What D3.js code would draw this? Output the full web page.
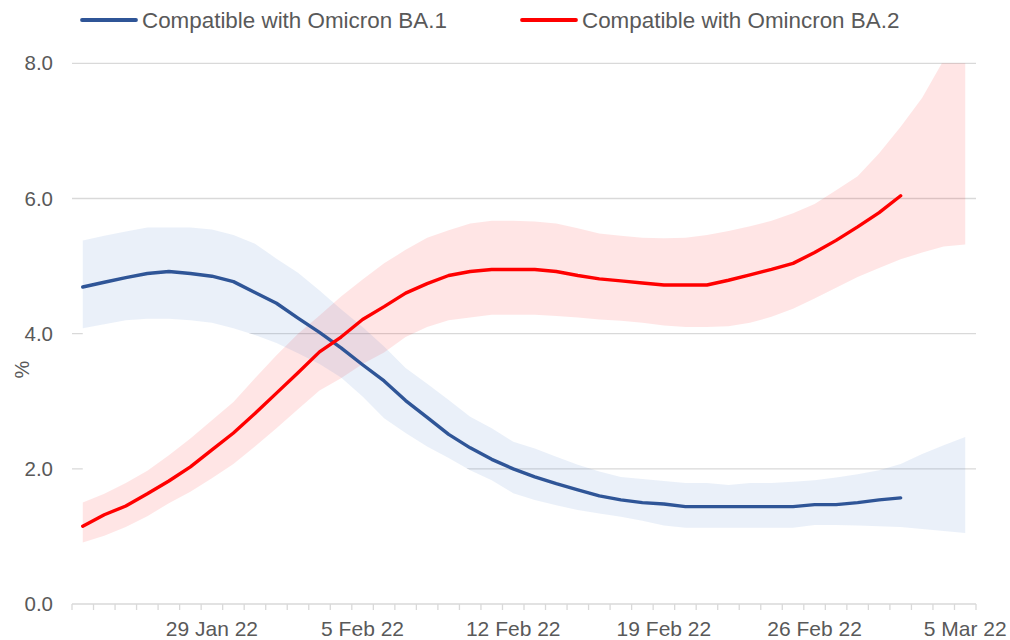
<!DOCTYPE html>
<html>
<head>
<meta charset="utf-8">
<script src="https://cdn.jsdelivr.net/npm/d3@7"></script>
<style>
  html, body { margin: 0; padding: 0; background: #fff; }
  svg { display: block; font-family: "Liberation Sans", Arial, sans-serif; }
</style>
</head>
<body>
<svg id="chart" width="1010" height="640"></svg>
<script>
// ---------------- DATA ----------------
const categories = [
  "23 Jan 22","24 Jan 22","25 Jan 22","26 Jan 22","27 Jan 22","28 Jan 22","29 Jan 22",
  "30 Jan 22","31 Jan 22","1 Feb 22","2 Feb 22","3 Feb 22","4 Feb 22","5 Feb 22",
  "6 Feb 22","7 Feb 22","8 Feb 22","9 Feb 22","10 Feb 22","11 Feb 22","12 Feb 22",
  "13 Feb 22","14 Feb 22","15 Feb 22","16 Feb 22","17 Feb 22","18 Feb 22","19 Feb 22",
  "20 Feb 22","21 Feb 22","22 Feb 22","23 Feb 22","24 Feb 22","25 Feb 22","26 Feb 22",
  "27 Feb 22","28 Feb 22","1 Mar 22","2 Mar 22","3 Mar 22","4 Mar 22","5 Mar 22"
];
const tickLabels = ["29 Jan 22","5 Feb 22","12 Feb 22","19 Feb 22","26 Feb 22","5 Mar 22"];
const yTicks = [0, 2, 4, 6, 8];
const seriesNames = ["Compatible with Omicron BA.1", "Compatible with Omincron BA.2"];

// BA.1 estimate (ends 2 Mar) and 95% interval (to 5 Mar)
const ba1 = [4.69,4.76,4.83,4.89,4.92,4.89,4.85,4.77,4.61,4.45,4.23,4.02,3.79,3.54,
  3.30,3.01,2.76,2.51,2.31,2.14,2.00,1.88,1.78,1.69,1.60,1.54,1.50,1.48,1.44,1.44,
  1.44,1.44,1.44,1.44,1.47,1.47,1.50,1.54,1.57];
const ba1Upper = [5.38,5.45,5.51,5.57,5.57,5.57,5.54,5.46,5.33,5.11,4.90,4.64,4.36,4.10,
  3.81,3.49,3.26,3.02,2.77,2.60,2.40,2.30,2.18,2.06,1.96,1.88,1.85,1.82,1.79,1.79,
  1.76,1.79,1.79,1.81,1.83,1.87,1.92,1.98,2.07,2.22,2.35,2.47];
const ba1Lower = [4.08,4.14,4.20,4.22,4.22,4.20,4.16,4.08,3.98,3.86,3.71,3.55,3.35,3.07,
  2.75,2.53,2.33,2.16,1.98,1.83,1.64,1.54,1.46,1.39,1.34,1.29,1.23,1.16,1.13,1.13,
  1.13,1.13,1.13,1.13,1.17,1.17,1.16,1.15,1.14,1.11,1.08,1.05];

// BA.2 estimate and interval
const ba2 = [1.15,1.32,1.45,1.63,1.82,2.03,2.28,2.53,2.82,3.12,3.42,3.73,3.95,4.21,
  4.40,4.60,4.74,4.86,4.92,4.95,4.95,4.95,4.92,4.86,4.81,4.78,4.75,4.72,4.72,4.72,
  4.79,4.87,4.95,5.04,5.20,5.38,5.58,5.79,6.04];
const ba2Upper = [1.50,1.63,1.79,1.97,2.20,2.45,2.72,2.99,3.34,3.68,4.00,4.27,4.55,4.80,
  5.04,5.24,5.42,5.53,5.63,5.67,5.67,5.66,5.63,5.56,5.48,5.45,5.42,5.41,5.42,5.46,
  5.52,5.59,5.67,5.78,5.92,6.12,6.33,6.67,7.06,7.49,8.05,8.60];
const ba2Lower = [0.91,1.01,1.14,1.30,1.49,1.66,1.86,2.07,2.33,2.60,2.88,3.16,3.34,3.55,
  3.72,3.95,4.10,4.20,4.24,4.28,4.28,4.28,4.26,4.24,4.21,4.19,4.16,4.12,4.10,4.10,
  4.11,4.16,4.25,4.37,4.52,4.68,4.84,4.97,5.10,5.20,5.29,5.32];

// ---------------- LAYOUT ----------------
const svg = d3.select("#chart");
const plot = { left: 72, right: 976, top: 63.3, bottom: 604 };
const textColor = "#595959";
const gridColor = "#d9d9d9";
const blue = "#2f5597";
const bandBlue = "#4472c4";
const red = "#ff0000";

const x = d3.scaleBand().domain(categories).range([plot.left, plot.right]).padding(0);
const cx = c => x(c) + x.bandwidth() / 2;
const y = d3.scaleLinear().domain([0, 8]).range([plot.bottom, plot.top]);

svg.append("defs").append("clipPath").attr("id", "plotClip")
  .append("rect").attr("x", plot.left).attr("y", plot.top)
  .attr("width", plot.right - plot.left + 2).attr("height", plot.bottom - plot.top);

// gridlines
svg.append("g").selectAll("line").data(yTicks.filter(d => d > 0)).join("line")
  .attr("x1", plot.left).attr("x2", plot.right)
  .attr("y1", d => y(d)).attr("y2", d => y(d))
  .attr("stroke", gridColor).attr("stroke-width", 1.3);

// y tick labels
svg.append("g").selectAll("text").data(yTicks).join("text")
  .attr("x", 53).attr("y", d => y(d)).attr("dy", "0.35em")
  .attr("text-anchor", "end").attr("fill", textColor).attr("font-size", 20.5)
  .text(d => d3.format(".1f")(d));

// y axis title
svg.append("text")
  .attr("transform", `translate(29,${(plot.top + plot.bottom) / 2 + 36}) rotate(-90)`)
  .attr("text-anchor", "middle").attr("fill", textColor).attr("font-size", 20)
  .text("%");

const bands = svg.append("g").attr("clip-path", "url(#plotClip)");

// white stacked base under BA.1 interval (hides gridlines beneath it)
const base = categories.map((c, i) => ({ c, lo: 0, hi: ba1Lower[i] }));
bands.append("path").datum(base)
  .attr("fill", "#ffffff")
  .attr("d", d3.area().x(d => cx(d.c)).y0(d => y(d.lo)).y1(d => y(d.hi)));

const band2 = categories.map((c, i) => ({ c, lo: ba2Lower[i], hi: ba2Upper[i] }));
bands.append("path").datum(band2)
  .attr("fill", red).attr("fill-opacity", 0.1)
  .attr("d", d3.area().x(d => cx(d.c)).y0(d => y(d.lo)).y1(d => y(d.hi)));

const band1 = categories.map((c, i) => ({ c, lo: ba1Lower[i], hi: ba1Upper[i] }));
bands.append("path").datum(band1)
  .attr("fill", bandBlue).attr("fill-opacity", 0.11)
  .attr("d", d3.area().x(d => cx(d.c)).y0(d => y(d.lo)).y1(d => y(d.hi)));

// x axis
const xAxis = svg.append("g");
xAxis.append("line").attr("x1", plot.left).attr("x2", plot.right)
  .attr("y1", plot.bottom).attr("y2", plot.bottom)
  .attr("stroke", gridColor).attr("stroke-width", 1.3);
const boundaries = categories.map(c => x(c)).concat([x(categories[categories.length - 1]) + x.bandwidth()]);
xAxis.selectAll("line.tick").data(boundaries).join("line").attr("class", "tick")
  .attr("x1", d => d).attr("x2", d => d)
  .attr("y1", plot.bottom).attr("y2", plot.bottom + 6)
  .attr("stroke", gridColor).attr("stroke-width", 1.3);
xAxis.selectAll("text").data(tickLabels).join("text")
  .attr("x", d => cx(d)).attr("y", 636)
  .attr("text-anchor", "middle").attr("fill", textColor).attr("font-size", 21)
  .text(d => d);

// lines
const line = d3.line().x(d => cx(d.c)).y(d => y(d.v));
svg.append("path").datum(ba1.map((v, i) => ({ c: categories[i], v })))
  .attr("fill", "none").attr("stroke", blue).attr("stroke-width", 3.4)
  .attr("stroke-linejoin", "round").attr("stroke-linecap", "round").attr("d", line);
svg.append("path").datum(ba2.map((v, i) => ({ c: categories[i], v })))
  .attr("fill", "none").attr("stroke", red).attr("stroke-width", 3.4)
  .attr("stroke-linejoin", "round").attr("stroke-linecap", "round").attr("d", line);

// legend
const legendItems = [
  { name: seriesNames[0], color: blue, x: 82 },
  { name: seriesNames[1], color: red, x: 522 }
];
const lg = svg.append("g").selectAll("g").data(legendItems).join("g")
  .attr("transform", d => `translate(${d.x},20)`);
lg.append("line").attr("x1", 0).attr("x2", 54).attr("y1", 0).attr("y2", 0)
  .attr("stroke", d => d.color).attr("stroke-width", 3.8).attr("stroke-linecap", "round");
lg.append("text").attr("x", 60).attr("y", 0).attr("dy", "0.35em")
  .attr("fill", textColor).attr("font-size", 22.4).text(d => d.name);
</script>
</body>
</html>
